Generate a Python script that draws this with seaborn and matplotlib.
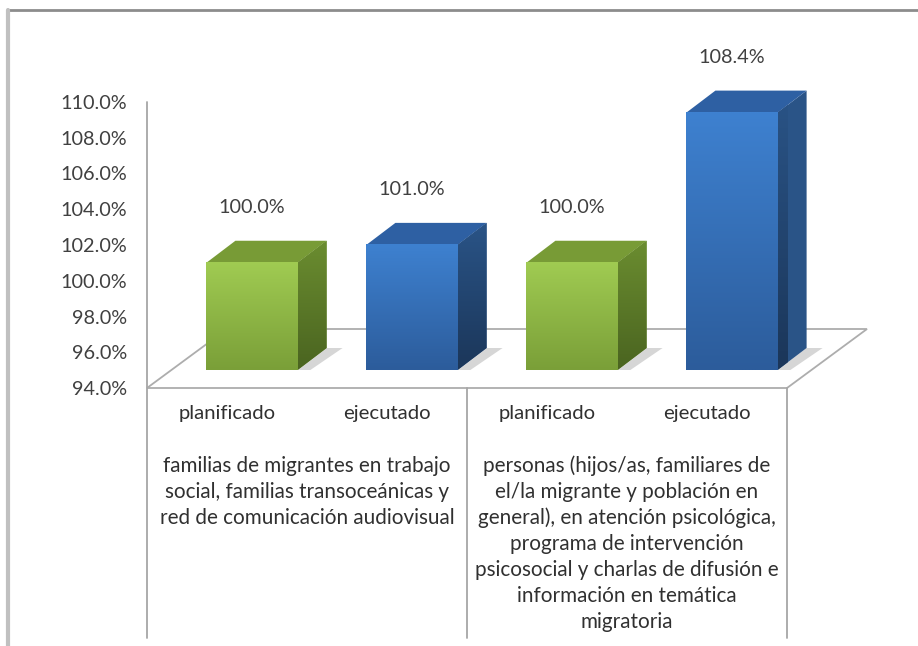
import numpy as np
import pandas as pd
import matplotlib
matplotlib.use("Agg")
import matplotlib.pyplot as plt
import matplotlib.transforms as mtransforms
from matplotlib.patches import Polygon
from matplotlib.colors import LinearSegmentedColormap
import seaborn as sns

# === datos ===
barras = ["planificado", "ejecutado", "planificado", "ejecutado"]
serie = ["plan", "ejec", "plan", "ejec"]
valores = [100.0, 101.0, 100.0, 108.4]
grupos = [
    ["familias de migrantes en trabajo",
     "social, familias transoceánicas y",
     "red de comunicación audiovisual"],
    ["personas (hijos/as, familiares de",
     "el/la migrante y población en",
     "general), en atención psicológica,",
     "programa de intervención",
     "psicosocial y charlas de difusión e",
     "información en temática",
     "migratoria"],
]
yticks = [94, 96, 98, 100, 102, 104, 106, 108, 110]

# colores (abajo, arriba)
frente = {"plan": ("#7A9F38", "#A0CB52"), "ejec": ("#2C5C9B", "#3E81D0")}
lado = {"plan": ("#4A6420", "#6B8D30"), "ejec": ("#1B3659", "#2A5487")}
tapa = {"plan": "#789B36", "ejec": "#2E60A3"}

sns.set_theme(style="white")
plt.rcParams["font.family"] = ["Lato", "DejaVu Sans"]

W, H = 918, 646
fig = plt.figure(figsize=(W / 100, H / 100), dpi=100)
ax = fig.add_axes([147 / W, (H - 388) / H, 640 / W, 286 / H])

df = pd.DataFrame({"pos": range(len(valores)), "valor": valores, "serie": serie})
sns.barplot(data=df, x="pos", y="valor", hue="serie", dodge=False, width=0.57,
            palette={k: v[1] for k, v in frente.items()}, legend=False, ax=ax)

ax.set_xlim(-0.5, 3.5)
ax.set_ylim(yticks[0], yticks[-1])

# efecto 3D: cara frontal desplazada, profundidad en unidades de datos
px_x = 640 / 4
px_y = 286 / (yticks[-1] - yticks[0])
shift = mtransforms.offset_copy(ax.transData, fig=fig, x=25, y=18, units="dots")
ddx, ddy = 29 / px_x, 22 / px_y
y0 = yticks[0]

# piso
piso = Polygon([(-0.5, y0), (3.5, y0), (3.5 + 80 / px_x, y0 + 59 / px_y),
                (-0.5 + 80 / px_x, y0 + 59 / px_y)], closed=True,
               facecolor="white", edgecolor="#ADADAD", lw=1.3, zorder=1, clip_on=False)
ax.add_patch(piso)


def degradado(patch, c_bajo, c_alto, ext):
    cmap = LinearSegmentedColormap.from_list("g", [c_bajo, c_alto])
    im = ax.imshow(np.linspace(0, 1, 256).reshape(-1, 1), cmap=cmap, extent=ext,
                   origin="lower", aspect="auto", transform=shift,
                   zorder=patch.get_zorder() + 0.1, interpolation="bilinear")
    im.set_clip_path(patch)
    im.set_clip_box(None)


for p in list(ax.patches):
    if p is piso:
        continue
    x0, w, v = p.get_x(), p.get_width(), p.get_height()
    i = int(round(x0 + w / 2))
    s = serie[i]
    p.set_y(y0)
    p.set_height(v - y0)
    p.set_transform(shift)
    p.set_clip_on(False)
    p.set_edgecolor("none")
    p.set_zorder(3)

    # sombra suave en el piso
    sombra = Polygon([(x0 + w, y0), (x0 + w + ddx, y0 + ddy),
                      (x0 + w + ddx + 0.1, y0 + ddy), (x0 + w + 0.08, y0)],
                     closed=True, facecolor="#8A8A8A", alpha=0.35, edgecolor="none",
                     transform=shift, zorder=2, clip_on=False)
    ax.add_patch(sombra)

    cara_lado = Polygon([(x0 + w, y0), (x0 + w + ddx, y0 + ddy),
                         (x0 + w + ddx, v + ddy), (x0 + w, v)], closed=True,
                        facecolor=lado[s][1], edgecolor="none", transform=shift,
                        zorder=3, clip_on=False)
    ax.add_patch(cara_lado)
    cara_tapa = Polygon([(x0, v), (x0 + w, v), (x0 + w + ddx, v + ddy),
                         (x0 + ddx, v + ddy)], closed=True, facecolor=tapa[s],
                        edgecolor="none", transform=shift, zorder=3, clip_on=False)
    ax.add_patch(cara_tapa)

    degradado(p, frente[s][0], frente[s][1], (x0, x0 + w, y0, v))
    degradado(cara_lado, lado[s][0], lado[s][1], (x0 + w, x0 + w + ddx, y0, v + ddy))

    ax.annotate(f"{valores[i]:.1f}%", xy=(x0 + w / 2, v), xytext=(25, 73),
                textcoords="offset pixels", ha="center", va="center",
                fontsize=14.3, color="#404040")

ax.set_xlim(-0.5, 3.5)
ax.set_ylim(yticks[0], yticks[-1])

# ejes
for sp in ax.spines.values():
    sp.set_visible(False)
ax.set_yticks(yticks, [f"{t:.1f}%" for t in yticks])
ax.tick_params(axis="y", length=0, pad=14.5, labelsize=14.3, labelcolor="#404040")
ax.set_xticks(range(len(barras)), barras)
ax.tick_params(axis="x", length=0, pad=12.5, labelsize=14.6, labelcolor="#303030")
ax.set_xlabel("")
ax.set_ylabel("")

# líneas del eje y cuadro de categorías
tr = mtransforms.blended_transform_factory(ax.transData, ax.transAxes)
fondo = (388 - 638) / 286
ax.plot([-0.5, -0.5], [1.0, fondo], color="#A6A6A6", lw=1.3, transform=tr, clip_on=False, zorder=1)
for xs in [1.5, 3.5]:
    ax.plot([xs, xs], [0, fondo], color="#A6A6A6", lw=1.3, transform=tr, clip_on=False, zorder=1)

# etiquetas de grupo
for g, lineas in enumerate(grupos):
    for k, linea in enumerate(lineas):
        yb = (388 - (472 + 26 * k)) / 286
        ax.text(2 * g + 0.5, yb, linea, transform=tr, ha="center", va="baseline",
                fontsize=14.9, color="#303030")

# marco exterior
fig.add_artist(plt.Line2D([8 / W, 1], [1 - 10 / H, 1 - 10 / H], color="#8C8C8C", lw=2))
fig.add_artist(plt.Line2D([8 / W, 8 / W], [0, 1 - 10 / H], color="#C0C0C0", lw=3))

fig.savefig("out.png", dpi=100)
